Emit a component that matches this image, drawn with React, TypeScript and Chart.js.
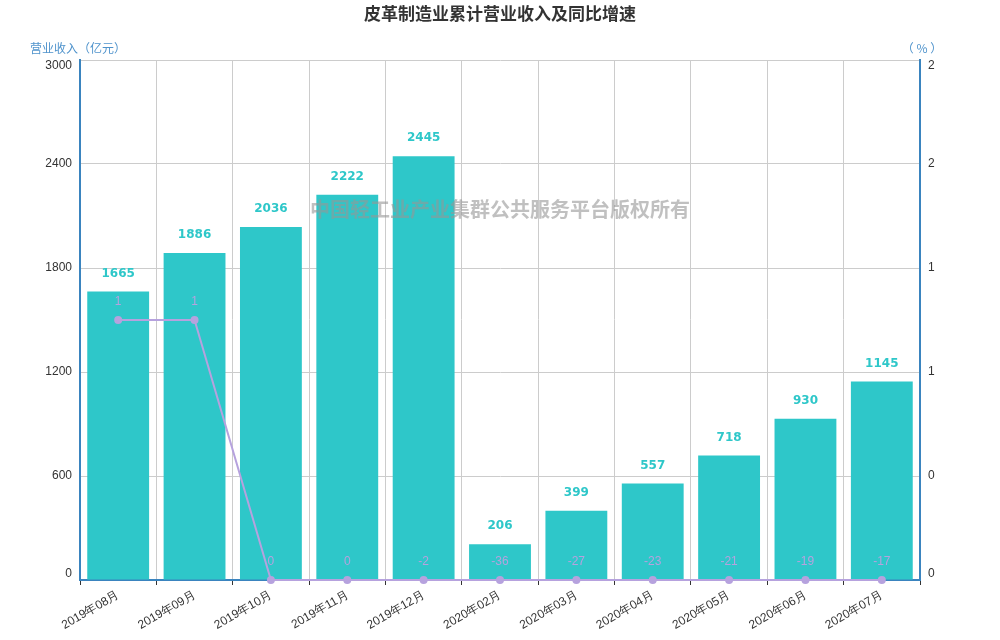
import { useEffect, useRef } from "react"
import { Chart, registerables, type ChartConfiguration, type Plugin } from "chart.js"

Chart.register(...registerables)

const months = [
  "2019年08月",
  "2019年09月",
  "2019年10月",
  "2019年11月",
  "2019年12月",
  "2020年02月",
  "2020年03月",
  "2020年04月",
  "2020年05月",
  "2020年06月",
  "2020年07月",
]
const revenue = [1665, 1886, 2036, 2222, 2445, 206, 399, 557, 718, 930, 1145]
const growth = [1, 1, 0, 0, -2, -36, -27, -23, -21, -19, -17]

const BAR_COLOR = "#2ec7c9"
const LINE_COLOR = "#b6a2de"
const AXIS_COLOR = "#3a84bf"
const CJK = '"Noto Sans CJK SC", "Noto Sans", sans-serif'
const LATIN = 'Arial, "Liberation Sans", sans-serif'

// y tick labels: edge labels are kept inside the plot like the original
function drawYLabels(chart: Chart, id: string, x: number, align: CanvasTextAlign, fmt: (v: number) => string) {
  const { ctx, chartArea } = chart
  const scale: any = chart.scales[id]
  ctx.textAlign = align
  scale.ticks.forEach((t: any) => {
    let y = scale.getPixelForValue(t.value)
    y = Math.min(Math.max(y, chartArea.top + 6), chartArea.bottom - 6)
    ctx.fillText(fmt(t.value), x, y)
  })
}

// titles, axis names, watermark and value labels
const decorations: Plugin<"bar"> = {
  id: "decorations",
  afterDatasetsDraw(chart) {
    const { ctx, chartArea } = chart
    ctx.save()
    ctx.textBaseline = "middle"

    ctx.font = `12px ${LATIN}`
    ctx.fillStyle = "#333"
    drawYLabels(chart as any, "y", chartArea.left - 8, "right", (v) => String(v))
    drawYLabels(chart as any, "y1", chartArea.right + 8, "left", (v) => String(Math.round(v)))

    // bar values
    const barMeta = chart.getDatasetMeta(0)
    ctx.font = 'bold 12px "DejaVu Sans", sans-serif'
    ctx.fillStyle = BAR_COLOR
    ctx.textAlign = "center"
    barMeta.data.forEach((el: any, i) => {
      ctx.fillText(String(revenue[i]), el.x, el.y - 18)
    })

    // line values
    const lineMeta = chart.getDatasetMeta(1)
    ctx.font = `12px ${LATIN}`
    ctx.fillStyle = LINE_COLOR
    lineMeta.data.forEach((el: any, i) => {
      ctx.fillText(String(growth[i]), el.x, el.y - 18)
    })

    // watermark
    ctx.font = `bold 20px ${CJK}`
    ctx.fillStyle = "rgba(150,150,150,0.6)"
    ctx.fillText("中国轻工业产业集群公共服务平台版权所有", 500, 209)

    // title
    ctx.font = `bold 17px ${CJK}`
    ctx.fillStyle = "#333"
    ctx.fillText("皮革制造业累计营业收入及同比增速", 500, 14)

    // axis names
    ctx.font = `12px ${CJK}`
    ctx.fillStyle = "#4f93cc"
    ctx.fillText("营业收入（亿元）", chartArea.left - 2, 48)
    ctx.fillText("（ % ）", chartArea.right + 2, 48)

    ctx.restore()
  },
}

export default function App() {
  const canvasRef = useRef<HTMLCanvasElement>(null)
  const chartRef = useRef<Chart | null>(null)

  useEffect(() => {
    document.body.style.margin = "0"
    if (!canvasRef.current) return
    if (chartRef.current) chartRef.current.destroy()

    const tickFont = { family: LATIN, size: 12 }

    const config: ChartConfiguration<"bar"> = {
      type: "bar",
      data: {
        labels: months,
        datasets: [
          {
            label: "营业收入",
            data: revenue,
            backgroundColor: BAR_COLOR,
            barPercentage: 0.81,
            categoryPercentage: 1,
            yAxisID: "y",
            order: 2,
          },
          {
            type: "line" as any,
            label: "同比增速",
            // values below the axis minimum sit on the axis
            data: growth.map((v) => Math.max(v, 0)),
            borderColor: LINE_COLOR,
            backgroundColor: LINE_COLOR,
            borderWidth: 2,
            pointRadius: 4,
            pointBackgroundColor: LINE_COLOR,
            pointBorderWidth: 0,
            tension: 0,
            yAxisID: "y1",
            order: 1,
            clip: false as any,
          } as any,
        ],
      },
      options: {
        animation: false,
        responsive: false,
        maintainAspectRatio: false,
        layout: { padding: { top: 60, left: 0, right: 0, bottom: 0 } },
        plugins: {
          legend: { display: false },
          title: { display: false },
          tooltip: { enabled: false },
        },
        scales: {
          x: {
            grid: {
              color: "#cccccc",
              offset: true,
              tickLength: 5,
              tickColor: "#333",
            },
            border: { color: AXIS_COLOR, width: 2 },
            ticks: {
              color: "#333",
              font: tickFont,
              minRotation: 30,
              maxRotation: 30,
              autoSkip: false,
              padding: 3,
            },
            afterFit: (s: any) => {
              s.height = 60
            },
          },
          y: {
            position: "left",
            min: 0,
            max: 3000,
            ticks: { stepSize: 600, display: false },
            grid: { color: "#cccccc", drawTicks: false },
            border: { color: AXIS_COLOR, width: 2 },
            afterFit: (s: any) => {
              s.width = 80
            },
          },
          y1: {
            position: "right",
            min: 0,
            max: 2,
            ticks: { stepSize: 0.4, display: false },
            grid: { display: false, drawTicks: false },
            border: { color: AXIS_COLOR, width: 2 },
            afterFit: (s: any) => {
              s.width = 80
            },
          },
        },
      },
      plugins: [decorations],
    }

    chartRef.current = new Chart(canvasRef.current, config)

    return () => {
      if (chartRef.current) {
        chartRef.current.destroy()
        chartRef.current = null
      }
    }
  }, [])

  return (
    <div style={{ width: 1000, height: 640 }}>
      <canvas ref={canvasRef} width={1000} height={640}></canvas>
    </div>
  )
}
